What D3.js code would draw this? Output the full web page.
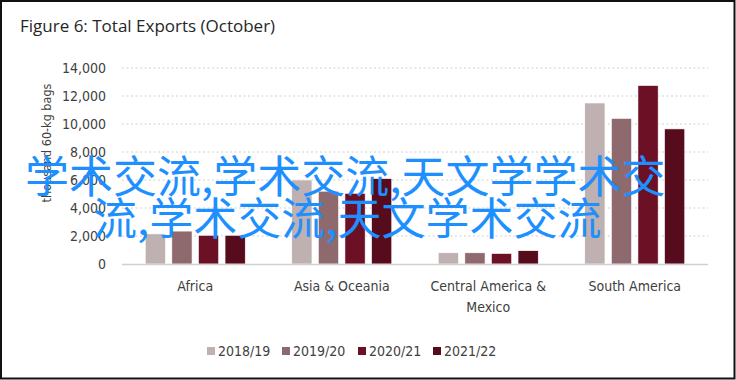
<!DOCTYPE html>
<html lang="en">
    <head>
        <meta charset="UTF-8" />
        <title>Figure 6: Total Exports (October)</title>
        <style>
            body {
                margin: 0;
                background: #fff;
            }

            .tick text,
            .cat-label,
            .legend text,
            .y-title {
                font-family: 'DejaVu Sans Condensed', 'DejaVu Sans', sans-serif;
                fill: #404040;
            }

            .title {
                font-family: 'Open Sans', sans-serif;
                font-size: 17px;
                fill: #262626;
            }

            .overlay {
                font-family: 'Noto Sans CJK SC', sans-serif;
                font-size: 44px;
                fill: #1e8fff;
            }
        </style>
    </head>

    <body>
        <svg width="736" height="380"></svg>
        <script src="https://d3js.org/d3.v7.min.js"></script>
        <script>
            // values
            const regions = ['Africa', 'Asia & Oceania', 'Central America & Mexico', 'South America'];
            const seasons = ['2018/19', '2019/20', '2020/21', '2021/22'];
            const v2018 = [2150, 6000, 800, 11500];
            const v2019 = [2350, 5200, 800, 10400];
            const v2020 = [2050, 5050, 750, 12750];
            const v2021 = [2050, 6100, 950, 9650];
            const yTicks = [0, 2000, 4000, 6000, 8000, 10000, 12000, 14000];
            const colors = ['#bfb0b1', '#8e6a6e', '#6c1026', '#570c1e'];
            const overlayLines = ['学术交流,学术交流,天文学学术交', '流,学术交流,天文学术交流'];

            const series = [v2018, v2019, v2020, v2021];

            const width = 736,
                height = 380;
            const svg = d3.select('svg');

            // outer frame
            svg.append('rect')
                .attr('x', 1)
                .attr('y', 1)
                .attr('width', width - 2.5)
                .attr('height', height - 2.5)
                .attr('fill', 'none')
                .attr('stroke', '#111')
                .attr('stroke-width', 2);

            svg.append('text').attr('class', 'title').attr('x', 20).attr('y', 32).text('Figure 6: Total Exports (October)');

            const x0 = d3.scaleBand().domain(regions).range([122, 708]);
            const x1 = d3.scaleBand().domain(seasons).range([-50, 50]).paddingInner(0.24);
            const y = d3.scaleLinear().domain([0, 14000]).range([264, 68]);

            // grid
            svg.append('g')
                .selectAll('line')
                .data(yTicks.filter((d) => d > 0))
                .join('line')
                .attr('x1', 122)
                .attr('x2', 708)
                .attr('y1', (d) => y(d))
                .attr('y2', (d) => y(d))
                .attr('stroke', '#d0d0d0')
                .attr('stroke-width', 1.2)
                .attr('stroke-dasharray', '2,2.5');

            const yAxis = svg
                .append('g')
                .attr('transform', 'translate(108,0)')
                .call(d3.axisLeft(y).tickValues(yTicks).tickSize(0).tickFormat(d3.format(',')));
            yAxis.select('.domain').remove();
            yAxis.selectAll('text').attr('font-size', 14).attr('x', -2);

            svg.append('text')
                .attr('class', 'y-title')
                .attr('transform', 'translate(51,143) rotate(-90)')
                .attr('text-anchor', 'middle')
                .attr('font-size', 12.5)
                .text('thousand 60-kg bags');

            // bars
            const groups = svg
                .append('g')
                .selectAll('g')
                .data(regions)
                .join('g')
                .attr('transform', (d) => `translate(${x0(d) + x0.bandwidth() / 2},0)`);

            groups
                .selectAll('rect')
                .data((d, i) => seasons.map((s, j) => ({ s, v: series[j][i], c: colors[j] })))
                .join('rect')
                .attr('x', (d) => x1(d.s))
                .attr('width', x1.bandwidth())
                .attr('y', (d) => y(d.v))
                .attr('height', (d) => y(0) - y(d.v))
                .attr('fill', (d) => d.c)
                .attr('stroke', '#fff')
                .attr('stroke-width', 0.6);

            // baseline
            svg.append('line')
                .attr('x1', 122)
                .attr('x2', 708)
                .attr('y1', y(0) + 0.5)
                .attr('y2', y(0) + 0.5)
                .attr('stroke', '#d0d0d0')
                .attr('stroke-width', 1.5);

            // category labels
            const catLines = {
                'Central America & Mexico': ['Central America &', 'Mexico'],
            };
            groups
                .append('text')
                .attr('class', 'cat-label')
                .attr('text-anchor', 'middle')
                .attr('font-size', 14)
                .selectAll('tspan')
                .data((d) => catLines[d] || [d])
                .join('tspan')
                .attr('x', 0)
                .attr('y', (d, i) => 291 + i * 21)
                .text((d) => d);

            // legend
            const legend = svg.append('g').attr('class', 'legend');
            const legendX = [207, 282, 358, 433];
            const item = legend
                .selectAll('g')
                .data(seasons)
                .join('g')
                .attr('transform', (d, i) => `translate(${legendX[i]},351)`);
            item.append('rect')
                .attr('x', 0)
                .attr('y', -4)
                .attr('width', 8)
                .attr('height', 8)
                .attr('fill', (d, i) => colors[i]);
            item.append('text')
                .attr('x', 11)
                .attr('y', 5)
                .attr('font-size', 14)
                .text((d) => d);

            // overlay text
            svg.append('g')
                .selectAll('text')
                .data(overlayLines)
                .join('text')
                .attr('class', 'overlay')
                .attr('x', (d, i) => (i ? 93 : 25))
                .attr('y', (d, i) => (i ? 235 : 193))
                .text((d) => d);
        </script>
    </body>
</html>
